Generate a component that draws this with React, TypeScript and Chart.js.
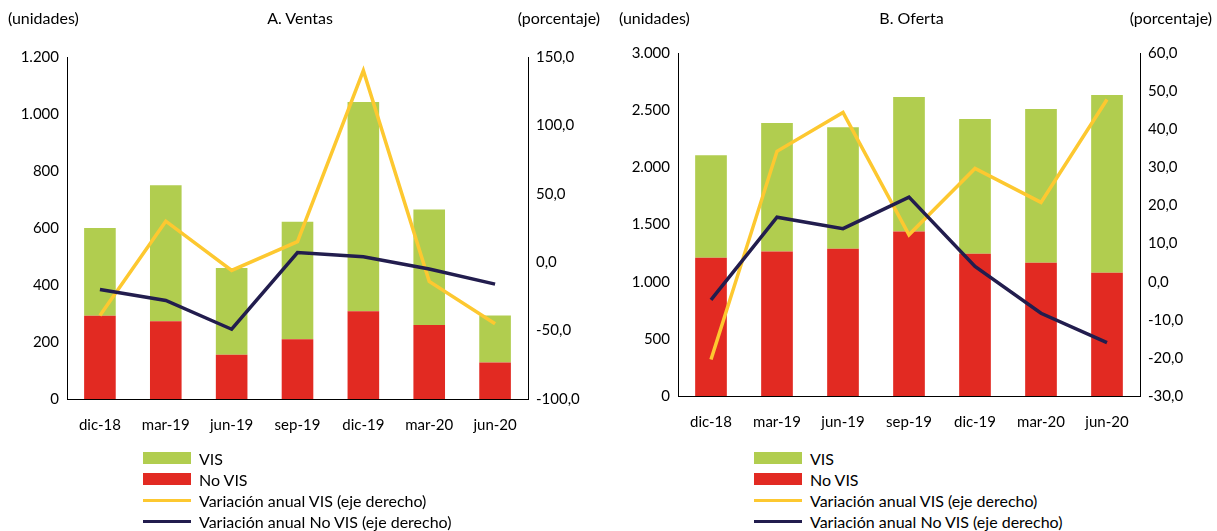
import { useEffect, useRef } from 'react';
import Chart from 'chart.js/auto';

const periods = ['dic-18', 'mar-19', 'jun-19', 'sep-19', 'dic-19', 'mar-20', 'jun-20'];

const ventasNoVis = [292, 273, 155, 210, 308, 260, 128];
const ventasVis = [308, 477, 305, 412, 734, 405, 165];
const ventasVarVis = [-39, 30, -6, 15, 140, -14, -45];
const ventasVarNoVis = [-20, -28, -49, 7, 4, -5, -16];

const ofertaNoVis = [1210, 1263, 1288, 1438, 1245, 1165, 1078];
const ofertaVis = [895, 1125, 1062, 1177, 1177, 1345, 1555];
const ofertaVarVis = [-20.4, 34.2, 44.4, 12.3, 29.7, 20.8, 47.8];
const ofertaVarNoVis = [-4.8, 16.9, 13.9, 22.2, 4.0, -8.3, -16.0];

const GREEN = '#b1cd4f';
const RED = '#e22a22';
const YELLOW = '#fdc830';
const NAVY = '#221d4e';
const FONT = 'Lato, "Open Sans", sans-serif';

const legendItems = [
  { label: 'VIS', color: GREEN, box: true },
  { label: 'No VIS', color: RED, box: true },
  { label: 'Variación anual VIS (eje derecho)', color: YELLOW, box: false },
  { label: 'Variación anual No VIS (eje derecho)', color: NAVY, box: false },
];

interface PanelProps {
  left: number;
  width: number;
  top: number;
  height: number;
  title: string;
  noVis: number[];
  vis: number[];
  varVis: number[];
  varNoVis: number[];
  yMax: number;
  yStep: number;
  y2Min: number;
  y2Max: number;
  y2Step: number;
}

const fmtThousands = (v: number) => v.toLocaleString('de-DE');
const fmtDec = (v: number) => v.toFixed(1).replace('.', ',');

function Panel(p: PanelProps) {
  const canvasRef = useRef<HTMLCanvasElement>(null);

  useEffect(() => {
    if (!canvasRef.current) return;
    const chart = new Chart(canvasRef.current, {
      type: 'bar',
      data: {
        labels: periods,
        datasets: [
          { type: 'line', label: 'Variación anual No VIS', data: p.varNoVis, yAxisID: 'y2', borderColor: NAVY, borderWidth: 3.5, pointRadius: 0, tension: 0 },
          { type: 'line', label: 'Variación anual VIS', data: p.varVis, yAxisID: 'y2', borderColor: YELLOW, borderWidth: 3.5, pointRadius: 0, tension: 0 },
          { label: 'No VIS', data: p.noVis, backgroundColor: RED, stack: 's', barPercentage: 0.48, categoryPercentage: 1 },
          { label: 'VIS', data: p.vis, backgroundColor: GREEN, stack: 's', barPercentage: 0.48, categoryPercentage: 1 },
        ],
      },
      options: {
        animation: false,
        responsive: false,
        layout: { padding: { top: p.top, right: 0, left: 0, bottom: 0 } },
        plugins: { legend: { display: false }, tooltip: { enabled: false } },
        scales: {
          x: {
            stacked: true,
            grid: { display: false, drawTicks: false },
            border: { color: '#000' },
            ticks: { color: '#000', font: { family: FONT, size: 15 }, padding: 17 },
          },
          y: {
            stacked: true,
            min: 0,
            max: p.yMax,
            afterFit: (s: any) => { s.width = 67; },
            grid: { display: false, drawTicks: true, tickLength: 5, tickColor: '#000' },
            border: { color: '#000' },
            ticks: { stepSize: p.yStep, color: '#000', font: { family: FONT, size: 15 }, callback: (v: any) => fmtThousands(Number(v)) },
          },
          y2: {
            position: 'right',
            min: p.y2Min,
            max: p.y2Max,
            afterFit: (s: any) => { s.width = 72; },
            grid: { display: false, drawTicks: true, tickLength: 5, tickColor: '#000' },
            border: { color: '#000' },
            ticks: { stepSize: p.y2Step, color: '#000', font: { family: FONT, size: 15 }, callback: (v: any) => fmtDec(Number(v)) },
          },
        },
      },
    });
    return () => chart.destroy();
  }, []);

  const txt = { position: 'absolute' as const, fontFamily: FONT, fontSize: 16, color: '#000', whiteSpace: 'nowrap' as const };

  return (
    <div style={{ position: 'absolute', left: p.left, top: 0, width: p.width, height: 531 }}>
      <canvas ref={canvasRef} width={p.width} height={p.height} style={{ position: 'absolute', left: 0, top: 0 }} />
      <div style={{ ...txt, left: 8, top: 8 }}>(unidades)</div>
      <div style={{ ...txt, left: 0, width: p.width, textAlign: 'center', top: 8 }}>{p.title}</div>
      <div style={{ ...txt, right: 0, top: 8 }}>(porcentaje)</div>
      {legendItems.map((it, i) => (
        <div key={it.label} style={{ ...txt, left: 143, top: 448 + i * 21, height: 20, display: 'flex', alignItems: 'center' }}>
          <span style={{ display: 'inline-block', width: 48, height: it.box ? 12 : 3, background: it.color, marginRight: 8 }} />
          {it.label}
        </div>
      ))}
    </div>
  );
}

export default function App() {
  useEffect(() => { document.body.style.margin = '0'; }, []);
  return (
    <div style={{ position: 'relative', width: 1217, height: 531, background: '#fff', overflow: 'hidden' }}>
      <Panel left={0} width={600} top={57} height={451} title="A. Ventas" noVis={ventasNoVis} vis={ventasVis} varVis={ventasVarVis} varNoVis={ventasVarNoVis}
        yMax={1200} yStep={200} y2Min={-100} y2Max={150} y2Step={50} />
      <Panel left={611} width={601} top={53} height={448} title="B. Oferta" noVis={ofertaNoVis} vis={ofertaVis} varVis={ofertaVarVis} varNoVis={ofertaVarNoVis}
        yMax={3000} yStep={500} y2Min={-30} y2Max={60} y2Step={10} />
    </div>
  );
}
